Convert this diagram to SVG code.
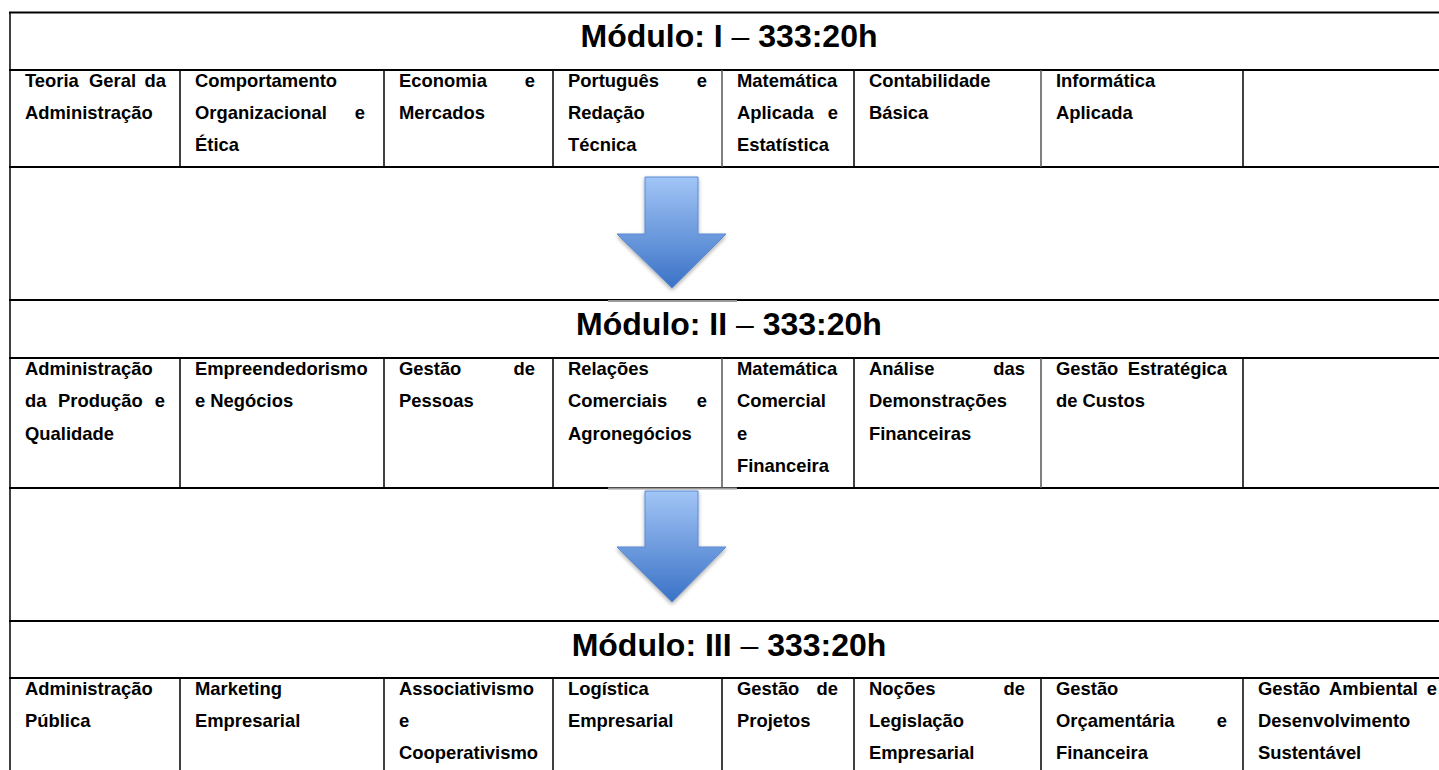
<svg xmlns="http://www.w3.org/2000/svg" width="1439" height="770" viewBox="0 0 1439 770">
<defs>
<style>
.h{stroke:#000;stroke-width:2;fill:none}
.v{stroke:#000;stroke-width:1.5;fill:none}
.vg{stroke:#555;stroke-width:1.5;fill:none}
.gs{stroke:#9a9a9a;stroke-width:2;fill:none}
.t{font-family:"Liberation Sans",Arial,sans-serif;font-weight:bold;font-size:18.4px;fill:#000}
.e{text-anchor:end}
.ti{font-family:"Liberation Sans",Arial,sans-serif;font-weight:bold;font-size:32px;fill:#000;text-anchor:middle}
.ar{fill:url(#ag);stroke:#5b8ad3;stroke-width:1}
</style>
<linearGradient id="ag" x1="0" y1="0" x2="0" y2="1">
<stop offset="0" stop-color="#a2c5f6"/>
<stop offset="1" stop-color="#3a72c6"/>
</linearGradient>
<filter id="sh" x="-20%" y="-20%" width="140%" height="140%">
<feGaussianBlur in="SourceAlpha" stdDeviation="2"/>
<feOffset dy="2" result="b"/>
<feComponentTransfer><feFuncA type="linear" slope="0.35"/></feComponentTransfer>
<feMerge><feMergeNode/><feMergeNode in="SourceGraphic"/></feMerge>
</filter>
</defs>
<rect width="1439" height="770" fill="#fff"/>

<g id="grid">
<line class="v" x1="10" y1="12" x2="10" y2="770"/>
<line class="h" x1="9" y1="12.5" x2="1439" y2="12.5"/>
<line class="h" x1="9" y1="70" x2="1439" y2="70"/>
<line class="h" x1="9" y1="167" x2="1439" y2="167"/>
<line class="h" x1="9" y1="300" x2="1439" y2="300"/>
<line class="h" x1="9" y1="358" x2="1439" y2="358"/>
<line class="h" x1="9" y1="488" x2="1439" y2="488"/>
<line class="h" x1="9" y1="621" x2="1439" y2="621"/>
<line class="h" x1="9" y1="678" x2="1439" y2="678"/>
<line class="gs" x1="608" y1="301" x2="737" y2="301"/>
<line class="gs" x1="608" y1="488.5" x2="737" y2="488.5"/>
<!-- row 1 verticals -->
<line class="v" x1="180" y1="70" x2="180" y2="167"/>
<line class="v" x1="384" y1="70" x2="384" y2="167"/>
<line class="v" x1="553" y1="70" x2="553" y2="167"/>
<line class="vg" x1="722" y1="70" x2="722" y2="167"/>
<line class="v" x1="854" y1="70" x2="854" y2="167"/>
<line class="vg" x1="1041" y1="70" x2="1041" y2="167"/>
<line class="v" x1="1243" y1="70" x2="1243" y2="167"/>
<!-- row 2 verticals -->
<line class="v" x1="180" y1="358" x2="180" y2="488"/>
<line class="v" x1="384" y1="358" x2="384" y2="488"/>
<line class="v" x1="553" y1="358" x2="553" y2="488"/>
<line class="vg" x1="722" y1="358" x2="722" y2="488"/>
<line class="v" x1="854" y1="358" x2="854" y2="488"/>
<line class="vg" x1="1041" y1="358" x2="1041" y2="488"/>
<line class="v" x1="1243" y1="358" x2="1243" y2="488"/>
<!-- row 3 verticals -->
<line class="v" x1="180" y1="678" x2="180" y2="770"/>
<line class="v" x1="384" y1="678" x2="384" y2="770"/>
<line class="v" x1="553" y1="678" x2="553" y2="770"/>
<line class="v" x1="722" y1="678" x2="722" y2="770"/>
<line class="v" x1="854" y1="678" x2="854" y2="770"/>
<line class="v" x1="1041" y1="678" x2="1041" y2="770"/>
<line class="v" x1="1243" y1="678" x2="1243" y2="770"/>
</g>

<g id="connectors">
<path class="ar" filter="url(#sh)" d="M645,177 H698 V234 H726 L672,288 L617,234 H645 Z"/>
<path class="ar" filter="url(#sh)" d="M645,491 H698 V547 H726 L672,602 L617,547 H645 Z"/>
</g>

<g id="modulo1">
<text class="ti" x="729" y="46.5">Módulo: I <tspan font-weight="normal">–</tspan> 333:20h</text>
</g>
<g id="m1-c1"><text class="t" y="87"><tspan x="25">Teoria</tspan><tspan x="89">Geral</tspan><tspan x="166" class="e" text-anchor="end">da</tspan></text><text class="t" x="25" y="119">Administração</text></g>
<g id="m1-c2"><text class="t" x="195" y="87">Comportamento</text><text class="t" x="195" y="119">Organizacional</text><text class="t e" x="365" y="119">e</text><text class="t" x="195" y="151">Ética</text></g>
<g id="m1-c3"><text class="t" x="399" y="87">Economia</text><text class="t e" x="535" y="87">e</text><text class="t" x="399" y="119">Mercados</text></g>
<g id="m1-c4"><text class="t" x="568" y="87">Português</text><text class="t e" x="707" y="87">e</text><text class="t" x="568" y="119">Redação</text><text class="t" x="568" y="151">Técnica</text></g>
<g id="m1-c5"><text class="t" x="737" y="87">Matemática</text><text class="t" x="737" y="119">Aplicada</text><text class="t e" x="838" y="119">e</text><text class="t" x="737" y="151">Estatística</text></g>
<g id="m1-c6"><text class="t" x="869" y="87">Contabilidade</text><text class="t" x="869" y="119">Básica</text></g>
<g id="m1-c7"><text class="t" x="1056" y="87">Informática</text><text class="t" x="1056" y="119">Aplicada</text></g>

<g id="modulo2">
<text class="ti" x="729" y="334.5">Módulo: II <tspan font-weight="normal">–</tspan> 333:20h</text>
</g>
<g id="m2-c1"><text class="t" x="25" y="375">Administração</text><text class="t" y="407"><tspan x="25">da</tspan><tspan x="58">Produção</tspan></text><text class="t e" x="165" y="407">e</text><text class="t" x="25" y="440">Qualidade</text></g>
<g id="m2-c2"><text class="t" x="195" y="375">Empreendedorismo</text><text class="t" x="195" y="407">e Negócios</text></g>
<g id="m2-c3"><text class="t" x="399" y="375">Gestão</text><text class="t e" x="535" y="375">de</text><text class="t" x="399" y="407">Pessoas</text></g>
<g id="m2-c4"><text class="t" x="568" y="375">Relações</text><text class="t" x="568" y="407">Comerciais</text><text class="t e" x="707" y="407">e</text><text class="t" x="568" y="440">Agronegócios</text></g>
<g id="m2-c5"><text class="t" x="737" y="375">Matemática</text><text class="t" x="737" y="407">Comercial</text><text class="t" x="737" y="440">e</text><text class="t" x="737" y="472">Financeira</text></g>
<g id="m2-c6"><text class="t" x="869" y="375">Análise</text><text class="t e" x="1025" y="375">das</text><text class="t" x="869" y="407">Demonstrações</text><text class="t" x="869" y="440">Financeiras</text></g>
<g id="m2-c7"><text class="t" x="1056" y="375">Gestão</text><text class="t e" x="1227" y="375">Estratégica</text><text class="t" x="1056" y="407">de Custos</text></g>

<g id="modulo3">
<text class="ti" x="729" y="655.5">Módulo: III <tspan font-weight="normal">–</tspan> 333:20h</text>
</g>
<g id="m3-c1"><text class="t" x="25" y="695">Administração</text><text class="t" x="25" y="727">Pública</text></g>
<g id="m3-c2"><text class="t" x="195" y="695">Marketing</text><text class="t" x="195" y="727">Empresarial</text></g>
<g id="m3-c3"><text class="t" x="399" y="695">Associativismo</text><text class="t" x="399" y="727">e</text><text class="t" x="399" y="759">Cooperativismo</text></g>
<g id="m3-c4"><text class="t" x="568" y="695">Logística</text><text class="t" x="568" y="727">Empresarial</text></g>
<g id="m3-c5"><text class="t" x="737" y="695">Gestão</text><text class="t e" x="838" y="695">de</text><text class="t" x="737" y="727">Projetos</text></g>
<g id="m3-c6"><text class="t" x="869" y="695">Noções</text><text class="t e" x="1025" y="695">de</text><text class="t" x="869" y="727">Legislação</text><text class="t" x="869" y="759">Empresarial</text></g>
<g id="m3-c7"><text class="t" x="1056" y="695">Gestão</text><text class="t" x="1056" y="727">Orçamentária</text><text class="t e" x="1227" y="727">e</text><text class="t" x="1056" y="759">Financeira</text></g>
<g id="m3-c8"><text class="t" y="695"><tspan x="1258">Gestão</tspan><tspan x="1329">Ambiental</tspan></text><text class="t e" x="1437" y="695">e</text><text class="t" x="1258" y="727">Desenvolvimento</text><text class="t" x="1258" y="759">Sustentável</text></g>
</svg>
